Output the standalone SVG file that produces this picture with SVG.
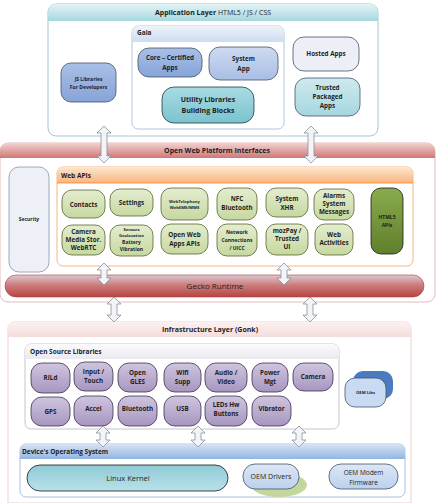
<svg xmlns="http://www.w3.org/2000/svg" width="436" height="503" viewBox="0 0 436 503">
<defs>
<linearGradient id="gTeal" x1="0" y1="0" x2="0" y2="1"><stop offset="0" stop-color="#e3f3f6"/><stop offset="1" stop-color="#a7d7df"/></linearGradient>
<linearGradient id="gBlueHdr" x1="0" y1="0" x2="0" y2="1"><stop offset="0" stop-color="#eef3fb"/><stop offset="1" stop-color="#cddcf0"/></linearGradient>
<linearGradient id="gBlueNode" x1="0" y1="0" x2="0" y2="1"><stop offset="0" stop-color="#a9c0e6"/><stop offset="1" stop-color="#86a4d8"/></linearGradient>
<linearGradient id="gSys" x1="0" y1="0" x2="0" y2="1"><stop offset="0" stop-color="#cedbf1"/><stop offset="1" stop-color="#a9bee4"/></linearGradient>
<linearGradient id="gUtil" x1="0" y1="0" x2="0" y2="1"><stop offset="0" stop-color="#a7dbe2"/><stop offset="1" stop-color="#7cc3cd"/></linearGradient>
<linearGradient id="gTrust" x1="0" y1="0" x2="0" y2="1"><stop offset="0" stop-color="#cfeaef"/><stop offset="1" stop-color="#a5d6df"/></linearGradient>
<linearGradient id="gRedHdr" x1="0" y1="0" x2="0" y2="1"><stop offset="0" stop-color="#f1d2d1"/><stop offset="1" stop-color="#cf7775"/></linearGradient>
<linearGradient id="gOrange" x1="0" y1="0" x2="0" y2="1"><stop offset="0" stop-color="#fde6d2"/><stop offset="1" stop-color="#f9b47c"/></linearGradient>
<linearGradient id="gGreen" x1="0" y1="0" x2="0" y2="1"><stop offset="0" stop-color="#e4edcf"/><stop offset="1" stop-color="#c6d8a0"/></linearGradient>
<linearGradient id="gHtml" x1="0" y1="0" x2="0" y2="1"><stop offset="0" stop-color="#8aab4d"/><stop offset="1" stop-color="#5f7f2b"/></linearGradient>
<linearGradient id="gGecko" x1="0" y1="0" x2="0" y2="1"><stop offset="0" stop-color="#ddc9d2"/><stop offset="0.45" stop-color="#cc7d7c"/><stop offset="1" stop-color="#b84441"/></linearGradient>
<linearGradient id="gPink" x1="0" y1="0" x2="0" y2="1"><stop offset="0" stop-color="#fdf1f1"/><stop offset="1" stop-color="#f5dcdc"/></linearGradient>
<linearGradient id="gGrayHdr" x1="0" y1="0" x2="0" y2="1"><stop offset="0" stop-color="#fbfbfd"/><stop offset="1" stop-color="#e9e9ef"/></linearGradient>
<linearGradient id="gPurple" x1="0" y1="0" x2="0" y2="1"><stop offset="0" stop-color="#cfc5df"/><stop offset="1" stop-color="#a796c0"/></linearGradient>
<linearGradient id="gDevHdr" x1="0" y1="0" x2="0" y2="1"><stop offset="0" stop-color="#d6e3f4"/><stop offset="1" stop-color="#93b5e1"/></linearGradient>
<linearGradient id="gKernel" x1="0" y1="0" x2="0" y2="1"><stop offset="0" stop-color="#8fcad6"/><stop offset="1" stop-color="#b9e1e9"/></linearGradient>
<linearGradient id="gOem" x1="0" y1="0" x2="0" y2="1"><stop offset="0" stop-color="#dde7f5"/><stop offset="1" stop-color="#bcd0ec"/></linearGradient>
</defs>
<style>
text{font-family:"Open Sans","Liberation Sans",sans-serif;font-weight:bold;fill:#1e1e1e;text-anchor:middle;}
.t{font-size:6.3px;}
.s{font-size:5px;}
.xs{font-size:4.2px;}
.h{font-size:6.5px;text-anchor:start;}
.title{font-size:7px;}
.n{font-weight:normal;}
.gn{fill:url(#gGreen);stroke:#56652e;stroke-width:0.8;}
.pn{fill:url(#gPurple);stroke:#3f3151;stroke-width:0.8;}
.arr{fill:#f2f4f7;stroke:#8a8f98;stroke-width:0.8;}
</style>

<g id="application-layer">
<path d="M56,4 H370 a8,8 0 0 1 8,8 V128 a8,8 0 0 1 -8,8 H56 a8,8 0 0 1 -8,-8 V12 a8,8 0 0 1 8,-8 Z" fill="#fff" stroke="#8cb6c4" stroke-width="0.8"/>
<path d="M56,4 H370 a8,8 0 0 1 8,8 V21 H48 V12 a8,8 0 0 1 8,-8 Z" fill="url(#gTeal)"/>
<text class="title" x="213" y="15">Application Layer <tspan class="n">HTML5 / JS / CSS</tspan></text>
</g>

<g id="gaia">
<path d="M138,26 H278 a6,6 0 0 1 6,6 V123 a6,6 0 0 1 -6,6 H138 a6,6 0 0 1 -6,-6 V32 a6,6 0 0 1 6,-6 Z" fill="#fff" stroke="#9fb5d5" stroke-width="0.8"/>
<path d="M138,26 H278 a6,6 0 0 1 6,6 V42 H132 V32 a6,6 0 0 1 6,-6 Z" fill="url(#gBlueHdr)"/>
<text class="h" x="137" y="35">Gaia</text>
</g>

<g id="js-libraries"><rect x="61" y="63" width="55" height="39" rx="10" fill="url(#gBlueNode)" stroke="#44546a" stroke-width="0.8"/><text class="s" x="88.5" y="81">JS Libraries</text><text class="s" x="88.5" y="89">For Developers</text></g>
<g id="core-apps"><rect x="138" y="48" width="64" height="29" rx="11" fill="url(#gBlueNode)" stroke="#44546a" stroke-width="0.8"/><text class="t" x="170" y="60">Core – Certified</text><text class="t" x="170" y="70">Apps</text></g>
<g id="system-app"><rect x="209" y="47" width="69" height="33" rx="11" fill="url(#gSys)" stroke="#44546a" stroke-width="0.8"/><text class="t" x="243.5" y="61">System</text><text class="t" x="243.5" y="71">App</text></g>
<g id="utility-libraries"><rect x="162" y="87" width="92" height="36" rx="12" fill="url(#gUtil)" stroke="#1f3b44" stroke-width="0.8"/><text class="title" x="208" y="102" font-size="7.5">Utility Libraries</text><text class="title" x="208" y="113" font-size="7.5">Building Blocks</text></g>
<g id="hosted-apps"><rect x="293" y="37" width="66" height="34" rx="11" fill="#eceff6" stroke="#44546a" stroke-width="0.8"/><text class="t" x="326" y="56">Hosted  Apps</text></g>
<g id="trusted-apps"><rect x="295" y="78" width="65" height="38" rx="11" fill="url(#gTrust)" stroke="#44546a" stroke-width="0.8"/><text class="t" x="327.5" y="90">Trusted</text><text class="t" x="327.5" y="99">Packaged</text><text class="t" x="327.5" y="108">Apps</text></g>

<g id="open-web-platform">
<path d="M8,143 H427 a8,8 0 0 1 8,8 V294 a8,8 0 0 1 -8,8 H8 a8,8 0 0 1 -8,-8 V151 a8,8 0 0 1 8,-8 Z" fill="#fff" stroke="#d9a8a6" stroke-width="0.8"/>
<path d="M8,143 H427 a8,8 0 0 1 8,8 V158 H0 V151 a8,8 0 0 1 8,-8 Z" fill="url(#gRedHdr)"/>
<text class="title" x="217" y="153">Open Web Platform Interfaces</text>
</g>

<g id="security"><rect x="9" y="167" width="40" height="105" rx="10" fill="#eef0f8" stroke="#8a93ab" stroke-width="0.8"/><text class="s" x="29" y="221">Security</text></g>

<g id="web-apis">
<path d="M63,167 H407 a6,6 0 0 1 6,6 V260 a6,6 0 0 1 -6,6 H63 a6,6 0 0 1 -6,-6 V173 a6,6 0 0 1 6,-6 Z" fill="#fff" stroke="#f6a15f" stroke-width="0.8"/>
<path d="M63,167 H407 a6,6 0 0 1 6,6 V183 H57 V173 a6,6 0 0 1 6,-6 Z" fill="url(#gOrange)"/>
<line x1="57" y1="183" x2="413" y2="183" stroke="#f28a2f" stroke-width="0.8"/>
<text class="h" x="61" y="178">Web APIs</text>
</g>

<g id="contacts"><rect x="62" y="190" width="43" height="28" rx="10" class="gn"/><text class="t" x="83.5" y="206.5">Contacts</text></g>
<g id="settings"><rect x="110" y="189" width="43" height="27" rx="10" class="gn"/><text class="t" x="131.5" y="205">Settings</text></g>
<g id="webtelephony"><rect x="161" y="188" width="47" height="32" rx="10" class="gn"/><text class="xs" x="184.5" y="203">WebTelephony</text><text class="xs" x="184.5" y="209">WebSMS/MMS</text></g>
<g id="nfc"><rect x="217" y="188" width="40" height="32" rx="10" class="gn"/><text class="t" x="237" y="201">NFC</text><text class="t" x="237" y="210">Bluetooth</text></g>
<g id="system-xhr"><rect x="266" y="188" width="42" height="29" rx="10" class="gn"/><text class="t" x="287" y="201">System</text><text class="t" x="287" y="210">XHR</text></g>
<g id="alarms"><rect x="314" y="189" width="40" height="31" rx="10" class="gn"/><text class="t" x="334" y="198">Alarms</text><text class="t" x="334" y="206">System</text><text class="t" x="334" y="214">Messages</text></g>
<g id="html5-apis"><rect x="371" y="188" width="32" height="66" rx="10" fill="url(#gHtml)" stroke="#1a1a1a" stroke-width="0.8"/><text class="s" x="387" y="219">HTML5</text><text class="s" x="387" y="227">APIs</text></g>

<g id="camera-media"><rect x="62" y="225" width="43" height="30" rx="10" class="gn"/><text class="t" x="83.5" y="234">Camera</text><text class="t" x="83.5" y="242">Media Stor.</text><text class="t" x="83.5" y="250">WebRTC</text></g>
<g id="sensors"><rect x="110" y="225" width="43" height="31" rx="10" class="gn"/><text class="xs" x="131.5" y="231">Sensors</text><text class="xs" x="131.5" y="237">Geolocation</text><text class="s" x="131.5" y="244">Battery</text><text class="s" x="131.5" y="251">Vibration</text></g>
<g id="open-web-apps"><rect x="161" y="224" width="47" height="30" rx="10" class="gn"/><text class="t" x="184.5" y="237">Open Web</text><text class="t" x="184.5" y="246">Apps APIs</text></g>
<g id="network"><rect x="217" y="224" width="40" height="32" rx="10" class="gn"/><text class="s" x="237" y="234">Network</text><text class="s" x="237" y="242">Connections</text><text class="s" x="237" y="250">/ UICC</text></g>
<g id="mozpay"><rect x="266" y="224" width="42" height="31" rx="10" class="gn"/><text class="t" x="287" y="233">mozPay /</text><text class="t" x="287" y="241">Trusted</text><text class="t" x="287" y="249">UI</text></g>
<g id="web-activities"><rect x="315" y="224" width="38" height="31" rx="10" class="gn"/><text class="t" x="334" y="237">Web</text><text class="t" x="334" y="245">Activities</text></g>

<g id="gecko-runtime"><rect x="5" y="275" width="419" height="22" rx="11" fill="url(#gGecko)" stroke="#a04542" stroke-width="0.6"/><text class="n" x="215" y="289" font-size="8">Gecko Runtime</text></g>

<g id="infrastructure-layer">
<path d="M14,322 H405 a6,6 0 0 1 6,6 V503 H8 V328 a6,6 0 0 1 6,-6 Z" fill="#fff" stroke="#ebc5c5" stroke-width="0.8"/>
<path d="M14,322 H405 a6,6 0 0 1 6,6 V337 H8 V328 a6,6 0 0 1 6,-6 Z" fill="url(#gPink)"/>
<text class="title" x="210" y="332">Infrastructure Layer (Gonk)</text>
</g>

<g id="open-source-libraries">
<path d="M31,344 H333 a6,6 0 0 1 6,6 V423 a6,6 0 0 1 -6,6 H31 a6,6 0 0 1 -6,-6 V350 a6,6 0 0 1 6,-6 Z" fill="#fff" stroke="#b7b7c2" stroke-width="0.8"/>
<path d="M31,344 H333 a6,6 0 0 1 6,6 V359 H25 V350 a6,6 0 0 1 6,-6 Z" fill="url(#gGrayHdr)"/>
<text class="h" x="30" y="354">Open Source Libraries</text>
</g>

<g id="rild"><rect x="31" y="363" width="39" height="30" rx="11" class="pn"/><text class="t" x="50.5" y="380">RILd</text></g>
<g id="input-touch"><rect x="74" y="362" width="39" height="29" rx="11" class="pn"/><text class="t" x="93.5" y="374">Input /</text><text class="t" x="93.5" y="383">Touch</text></g>
<g id="open-gles"><rect x="118" y="363" width="39" height="29" rx="11" class="pn"/><text class="t" x="137.5" y="375">Open</text><text class="t" x="137.5" y="384">GLES</text></g>
<g id="wifi-supp"><rect x="164" y="363" width="37" height="29" rx="11" class="pn"/><text class="t" x="182.5" y="375">Wifi</text><text class="t" x="182.5" y="384">Supp</text></g>
<g id="audio-video"><rect x="205" y="363" width="42" height="29" rx="11" class="pn"/><text class="t" x="226" y="375">Audio /</text><text class="t" x="226" y="384">Video</text></g>
<g id="power-mgt"><rect x="252" y="363" width="36" height="29" rx="11" class="pn"/><text class="t" x="270" y="375">Power</text><text class="t" x="270" y="384">Mgt</text></g>
<g id="camera"><rect x="293" y="363" width="40" height="28" rx="11" class="pn"/><text class="t" x="313" y="379">Camera</text></g>
<g id="gps"><rect x="31" y="397" width="39" height="29" rx="11" class="pn"/><text class="t" x="50.5" y="414">GPS</text></g>
<g id="accel"><rect x="74" y="396" width="39" height="30" rx="11" class="pn"/><text class="t" x="93.5" y="411">Accel</text></g>
<g id="bluetooth"><rect x="118" y="396" width="39" height="30" rx="11" class="pn"/><text class="t" x="137.5" y="411">Bluetooth</text></g>
<g id="usb"><rect x="164" y="396" width="37" height="30" rx="11" class="pn"/><text class="t" x="182.5" y="411">USB</text></g>
<g id="leds"><rect x="205" y="396" width="42" height="30" rx="11" class="pn"/><text class="t" x="226" y="407">LEDs Hw</text><text class="t" x="226" y="416">Buttons</text></g>
<g id="vibrator"><rect x="252" y="396" width="39" height="30" rx="11" class="pn"/><text class="t" x="271.5" y="411">Vibrator</text></g>

<g id="oem-libs"><rect x="353" y="371" width="40" height="28" rx="10" fill="#4a7ac0"/><rect x="345" y="378" width="41" height="29" rx="10" fill="#c9dbf2" stroke="#44546a" stroke-width="0.8"/><text class="xs" x="365.5" y="394">OEM Libs</text></g>

<g id="device-os">
<path d="M26,444 H399 a6,6 0 0 1 6,6 V491 a6,6 0 0 1 -6,6 H26 a6,6 0 0 1 -6,-6 V450 a6,6 0 0 1 6,-6 Z" fill="#fff" stroke="#95b3d7" stroke-width="0.8"/>
<path d="M26,444 H399 a6,6 0 0 1 6,6 V459 H20 V450 a6,6 0 0 1 6,-6 Z" fill="url(#gDevHdr)"/>
<text class="h" x="22" y="454">Device's Operating System</text>
</g>
<g id="linux-kernel"><rect x="27" y="465" width="201" height="26" rx="13" fill="url(#gKernel)" stroke="#1a1a1a" stroke-width="0.8"/><text class="n" x="128" y="481" font-size="7.5">Linux Kernel</text></g>
<g id="oem-drivers"><ellipse cx="279" cy="485" rx="28" ry="12" fill="#c3d69b"/><rect x="243" y="464" width="56" height="25" rx="12" fill="url(#gOem)" stroke="#44546a" stroke-width="0.8"/><text class="n" x="271" y="479" font-size="7">OEM Drivers</text></g>
<g id="oem-modem"><rect x="329" y="464" width="69" height="25" rx="12" fill="url(#gOem)" stroke="#44546a" stroke-width="0.8"/><text class="n" x="363.5" y="474.5" font-size="6.5">OEM Modem</text><text class="n" x="363.5" y="484.5" font-size="6.5">Firmware</text></g>

<g id="connectors">
<path class="arr" d="M104,126 L111,133 L107,133 L107,156 L111,156 L104,163 L97,156 L101,156 L101,133 L97,133 Z"/>
<path class="arr" d="M311,126 L318,133 L314,133 L314,156 L318,156 L311,163 L304,156 L308,156 L308,133 L304,133 Z"/>
<path class="arr" d="M104,263 L111,270 L107,270 L107,278 L111,278 L104,285 L97,278 L101,278 L101,270 L97,270 Z"/>
<path class="arr" d="M284,263 L291,270 L287,270 L287,278 L291,278 L284,285 L277,278 L281,278 L281,270 L277,270 Z"/>
<path class="arr" d="M114,297 L121,304 L117,304 L117,315 L121,315 L114,322 L107,315 L111,315 L111,304 L107,304 Z"/>
<path class="arr" d="M310,297 L317,304 L313,304 L313,315 L317,315 L310,322 L303,315 L307,315 L307,304 L303,304 Z"/>
<path class="arr" d="M103,426 L110,433 L106,433 L106,440 L110,440 L103,447 L96,440 L100,440 L100,433 L96,433 Z"/>
<path class="arr" d="M198,426 L205,433 L201,433 L201,440 L205,440 L198,447 L191,440 L195,440 L195,433 L191,433 Z"/>
<path class="arr" d="M299,426 L306,433 L302,433 L302,440 L306,440 L299,447 L292,440 L296,440 L296,433 L292,433 Z"/>
</g>
</svg>
